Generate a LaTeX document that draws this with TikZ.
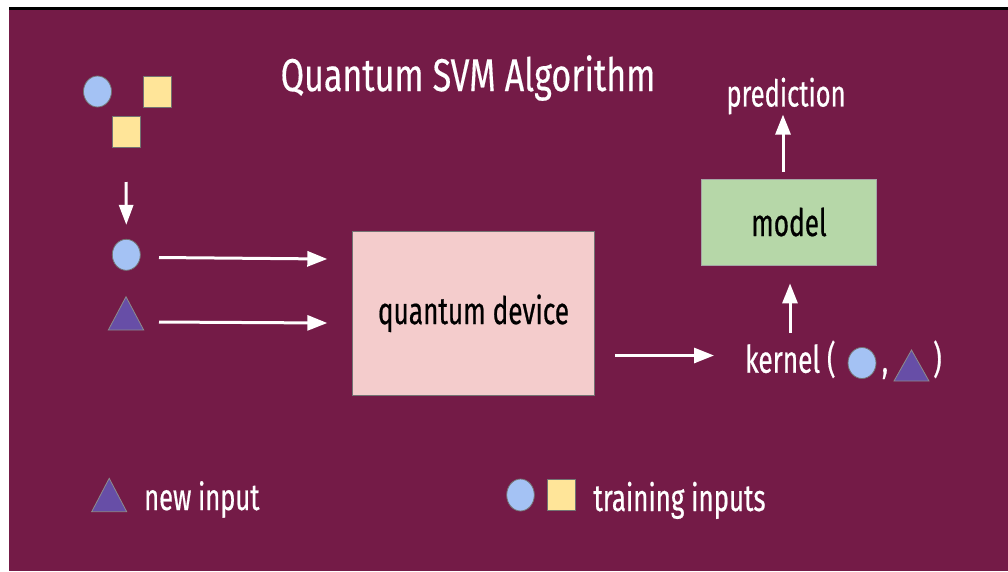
\documentclass[tikz,border=0pt]{standalone}
\usepackage{fontspec}
\setmainfont{Fira Sans}[FakeStretch=0.69, FakeBold=0.5]
\newfontfamily\titlefont{Fira Sans}[FakeStretch=0.74, FakeBold=0.3]
\usetikzlibrary{arrows.meta}
\definecolor{bgm}{HTML}{741B47}
\definecolor{cblue}{HTML}{A4C2F4}
\definecolor{sqy}{HTML}{FFE599}
\definecolor{tripur}{HTML}{674EA7}
\definecolor{qpink}{HTML}{F4CCCC}
\definecolor{mgreen}{HTML}{B6D7A8}
\tikzset{
  arr/.style={draw=white, line width=3pt, -{Triangle[length=20pt,width=15pt]}},
  circ/.style={ellipse, draw=black!55, line width=0.8pt, fill=cblue, minimum width=28pt, minimum height=31pt, inner sep=0pt},
  sq/.style={rectangle, draw=black!55, line width=0.8pt, fill=sqy, minimum width=28pt, minimum height=31pt, inner sep=0pt},
  tri/.style={draw=black!45, line width=0.8pt, fill=tripur},
  box/.style={rectangle, draw=black!55, line width=0.8pt, inner sep=0pt, font=\fontsize{38}{44}\selectfont, text=black},
  wtxt/.style={text=white, inner sep=0pt},
  btxt/.style={wtxt, font=\fontsize{38}{44}\selectfont},
}
\usetikzlibrary{shapes.geometric}
\begin{document}
\begin{tikzpicture}[x=1pt,y=-1pt]
\useasboundingbox (0,0) rectangle (1008,571);
\fill[bgm] (9,9) rectangle (1008,571);
\fill[black] (9,7) rectangle (1008,9.5);
% title
\node[wtxt, font=\titlefont\fontsize{46}{52}\selectfont] (title) at (468,78) {Quantum SVM Algorithm};
% top-left group
\node[circ] (c1) at (97.5,91.5) {};
\node[sq] (s1) at (157,91.5) {};
\node[sq] (s2) at (126,131.5) {};
\coordinate (dstart) at (126,182);
\node[circ] (c2) at (126.3,254.8) {};
\draw[arr, -{Triangle[length=20pt,width=14pt]}] (dstart) -- ([yshift=14pt]c2.north);
% new input triangle
\draw[tri] (108.3,330) -- (126,296.7) -- (143.7,330) -- cycle;
% arrows to quantum device
\coordinate (a1s) at (159,257.5);
\coordinate (a2s) at (159,322);
\node[box, fill=qpink, minimum width=241.6pt, minimum height=164.7pt] (qd) at (473.5,313.3) {quantum device};
\draw[arr] (a1s) -- ([xshift=-25pt]qd.west |- 0,259) coordinate (a1e);
\draw[arr] (a2s) -- ([xshift=-25pt]qd.west |- 0,323) coordinate (a2e);
% kernel
\node[btxt, anchor=base west] (kern) at (745,372.7) {kernel (};
\node[circ] (kc) at (862,363) {};
\node[btxt, anchor=base] (comma) at (885,372.7) {,};
\draw[tri] (894,381) -- (911.5,350) -- (929,381) -- cycle;
\node[btxt, anchor=base west] (rpar) at (933,372.7) {)};
\coordinate (qout) at (615,355.5);
\draw[arr] (qout) -- ([xshift=-31pt]kern.west |- 0,355.5);
% model
\node[box, fill=mgreen, draw=black!35, minimum width=175.7pt, minimum height=86pt] (model) at (789,222) {model};
\coordinate (kup) at (790,333);
\draw[arr] (kup) -- ([yshift=-18pt]model.south -| 790,0);
% prediction
\node[wtxt, font=\fontsize{37}{42}\selectfont] (pred) at (786,96) {prediction};
\coordinate (mup) at (783,172);
\draw[arr] (mup) -- (pred.south -| 783,123);
% legend
\draw[tri] (91.7,511.7) -- (109.2,478.3) -- (126.7,511.7) -- cycle;
\node[btxt, font=\fontsize{37}{42}\selectfont, anchor=base west] (newin) at (144,510) {new input};
\node[circ, minimum width=27.6pt, minimum height=32pt] (lc) at (520.5,495) {};
\node[sq, minimum width=28pt, minimum height=31.7pt] (ls) at (561.3,494.8) {};
\node[btxt, font=\fontsize{37.5}{42}\selectfont, anchor=base west] (trin) at (593.3,511) {training inputs};
\end{tikzpicture}
\end{document}
